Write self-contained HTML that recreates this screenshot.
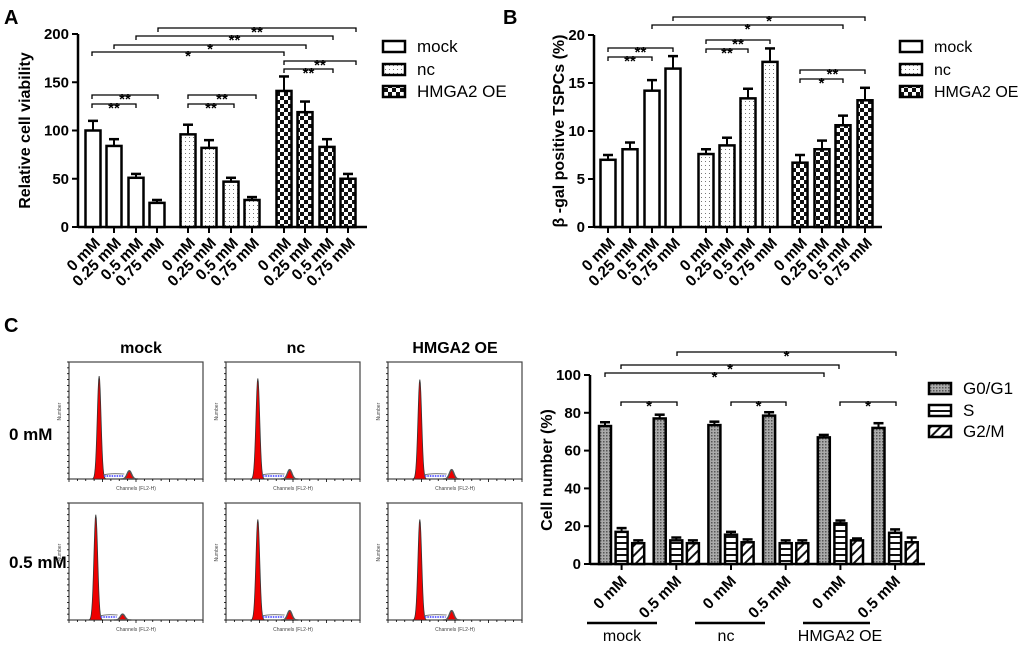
<!DOCTYPE html>
<html><head><meta charset="utf-8">
<style>
body{margin:0;background:#fff;}
svg{display:block;font-family:"Liberation Sans",Arial,sans-serif;}
</style></head>
<body>
<svg id="fig" width="1020" height="649" viewBox="0 0 1020 649" xmlns="http://www.w3.org/2000/svg">
<defs>
<pattern id="pDot" width="4" height="4" patternUnits="userSpaceOnUse"><rect width="4" height="4" fill="#fff"/><rect x="1" y="1" width="1" height="1" fill="#777"/></pattern>
<pattern id="pCheck" width="8" height="8" patternUnits="userSpaceOnUse"><rect width="8" height="8" fill="#fff"/><rect width="4" height="4" fill="#111"/><rect x="4" y="4" width="4" height="4" fill="#111"/></pattern>
<pattern id="pGray" width="3" height="3" patternUnits="userSpaceOnUse"><rect width="3" height="3" fill="#aaa"/><rect width="1.5" height="1.5" fill="#555"/></pattern>
<pattern id="pHoriz" width="6" height="6" patternUnits="userSpaceOnUse"><rect width="6" height="6" fill="#fff"/><rect y="2" width="6" height="2" fill="#111"/></pattern>
<pattern id="pDiag" width="7" height="7" patternUnits="userSpaceOnUse" patternTransform="rotate(45)"><rect width="7" height="7" fill="#fff"/><rect width="2" height="7" fill="#111"/></pattern>
</defs>
<g id="root"></g>
</svg>
<script>
// Panel A data
const aGroups = ['mock','nc','HMGA2 OE'];
const aDoses = ['0 mM','0.25 mM','0.5 mM','0.75 mM'];
const aMock = [100,84,51,25];
const aNc = [96,82,47,28];
const aOE = [141,119,83,50];
const aMockErr = [10,7,4,3];
const aNcErr = [10,8,4,3];
const aOEErr = [15,11,8,5];
const aTicks = [0,50,100,150,200];
// Panel B data
const bMock = [7.0,8.1,14.2,16.5];
const bNc = [7.6,8.5,13.4,17.2];
const bOE = [6.7,8.1,10.6,13.2];
const bMockErr = [0.5,0.7,1.1,1.3];
const bNcErr = [0.5,0.8,1.0,1.4];
const bOEErr = [0.8,0.9,1.0,1.3];
const bTicks = [0,5,10,15,20];
// Panel C data
const cPhases = ['G0/G1','S','G2/M'];
const cDoseLabels = ['0 mM','0.5 mM','0 mM','0.5 mM','0 mM','0.5 mM'];
const cG0G1 = [73,77,73.5,78.5,67,72];
const cS = [17,12.5,15.5,11,21.5,16.5];
const cG2M = [11,11,11.5,11,12.5,11.5];
const cG0G1Err = [2,2,1.8,1.8,1.3,2.5];
const cSErr = [2,1.5,1.5,1.5,1.5,1.8];
const cG2MErr = [1.5,1.5,1.5,1.5,1,2.5];
const cTicks = [0,20,40,60,80,100];
// Flow histogram params
const flowG1Pos = [18,19,19,16,19,19];
const flowG1H = [0.88,0.86,0.85,0.9,0.86,0.86];
const flowG2H = [0.07,0.08,0.08,0.05,0.08,0.08];

const NS='http://www.w3.org/2000/svg';
const root=document.getElementById('root');
function el(tag,attrs,parent,text){const e=document.createElementNS(NS,tag);for(const k in attrs)e.setAttribute(k,attrs[k]);if(text!==undefined)e.textContent=text;(parent||root).appendChild(e);return e;}
function line(x1,y1,x2,y2,w,p){return el('line',{x1,y1,x2,y2,stroke:'#000','stroke-width':w||2},p);}

function axisY(g,x,y0,y1,vmax,ticks,fs){
  const sc=v=>y0-(y0-y1)*v/vmax;
  line(x,y0+1,x,y1,2.5,g);
  ticks.forEach(t=>{line(x-6,sc(t),x,sc(t),2,g);
    const tx=el('text',{x:x-9,y:sc(t)+5,'text-anchor':'end','font-size':fs,'font-weight':'bold'},g,String(t));
    
    });
  return sc;
}
function bracket(g,x1,x2,y,label){
  const b=el('g',{},g);
  
  
  el('path',{d:`M${x1},${y+4}V${y}H${x2}V${y+4}`,fill:'none',stroke:'#000','stroke-width':1.3},b);
  el('text',{x:(x1+x2)/2,y:y+9,'text-anchor':'middle','font-size':15,'font-weight':'bold'},b,label);
}
function bar(g,cx,w,y0,yv,ye,fill,name){
  const b=el('g',{},g);
  
  
  line(cx,yv,cx,ye,2,b);line(cx-5,ye,cx+5,ye,2.5,b);
  el('rect',{x:cx-w/2,y:yv,width:w,height:y0-yv,fill:fill,stroke:'#000','stroke-width':2.5},b);
}
function legend(g,x,ys,fills,labels,fs){
  ys.forEach((y,i)=>{const l=el('g',{},g);
    
    
    el('rect',{x:x,y:y-5,width:22,height:11,fill:fills[i],stroke:'#000','stroke-width':2.5},l);
    el('text',{x:x+34,y:y+6,'font-size':fs},l,labels[i]);});
}
function rotLabel(g,x,y,t,fs){
  const tx=el('text',{x:x,y:y,'text-anchor':'end','font-size':fs,'font-weight':'bold',transform:`rotate(-45 ${x} ${y})`},g,t);
  
  
}
function panelLetter(x,y,t){const e=el('text',{x,y,'font-size':20,'font-weight':'bold'},root,t);
  
  }

function doseChart(name,ax,y0,y1,x1,vmax,ticks,series,errs,centers,ylab,ylx,legX,brks,lfs){
  const g=el('g',{});
  
  
  const sc=axisY(g,ax,y0,y1,vmax,ticks,15);
  line(ax,y0,x1,y0,2.5,g);
  const fills=['#fff','url(#pDot)','url(#pCheck)'];
  series.forEach((s,gi)=>s.forEach((v,i)=>{
    const cx=centers[gi][i];
    line(cx,y0,cx,y0+6,2,g);
    bar(g,cx,15,y0,sc(v),sc(v+errs[gi][i]),fills[gi],'bar-'+aGroups[gi].replace(/ /g,'-').toLowerCase()+'-'+i);
    rotLabel(g,cx+8,y0+17,aDoses[i],15.5);
  }));
  const yl=el('text',{x:ylx,y:(y0+y1)/2,'text-anchor':'middle','font-size':16,'font-weight':'bold',transform:`rotate(-90 ${ylx} ${(y0+y1)/2})`},g,ylab);
  
  
  legend(g,legX,[46,69,91],fills,aGroups,lfs);
  brks.forEach(b=>bracket(g,b[0],b[1],b[2],b[3]));
}
const aCenters=[[93,114,136,157],[188,209,231,252],[284,305,327,348]];
doseChart('chart-a-cell-viability',78,227,34,367,200,aTicks,[aMock,aNc,aOE],[aMockErr,aNcErr,aOEErr],aCenters,
 'Relative cell viability',30,383,
 [[158,356,28,'**'],[136,333,36,'**'],[114,306,45,'*'],[92,284,52,'*'],[284,356,61,'**'],[284,333,69,'**'],[92,158,95,'**'],[92,136,104,'**'],[188,256,95,'**'],[188,234,104,'**']],17);
const bCenters=[[608,630,652,673],[706,727,748,770],[800,822,843,865]];
doseChart('chart-b-beta-gal',594,227,35,882,20,bTicks,[bMock,bNc,bOE],[bMockErr,bNcErr,bOEErr],bCenters,
 'β -gal positive TSPCs (%)',564,900,
 [[673,865,17,'*'],[652,843,25,'*'],[608,673,48,'**'],[608,652,57,'**'],[706,770,40,'**'],[706,748,49,'**'],[800,865,70,'**'],[800,843,79,'*']],16);
panelLetter(4,24,'A');panelLetter(503,24,'B');panelLetter(4,332,'C');

(function(){
  const g=el('g',{});
  
  
  const ax=590,y0=564,y1=375;
  const sc=axisY(g,ax,y0,y1,100,cTicks,15);
  line(ax,y0,925,y0,2.5,g);
  const fills=['url(#pGray)','url(#pHoriz)','url(#pDiag)'];
  const vals=[cG0G1,cS,cG2M],errs=[cG0G1Err,cSErr,cG2MErr];
  cDoseLabels.forEach((d,i)=>{
    const base=605+i*54.7;
    vals.forEach((s,p)=>{const cx=base+p*16.6;
      bar(g,cx,12,y0,sc(s[i]),sc(s[i]+errs[p][i]),fills[p],'bar-'+cPhases[p].replace('/','-').toLowerCase()+'-'+i);});
    const tc=base+16.6;
    line(tc,y0,tc,y0+6,2,g);
    rotLabel(g,tc+6,y0+18,d,15.5);
  });
  const yl=el('text',{x:552,y:470,'text-anchor':'middle','font-size':16,'font-weight':'bold',transform:'rotate(-90 552 470)'},g,'Cell number (%)');
  
  
  legend(g,929,[388,410,431],fills,cPhases,17);
  const grp=[[587,657,'mock',622],[695,765,'nc',726],[803,870,'HMGA2 OE',840]];
  grp.forEach(q=>{const gg=el('g',{},g);
    
    
    line(q[0],623,q[1],623,2.5,gg);
    el('text',{x:q[3],y:641,'text-anchor':'middle','font-size':16},gg,q[2]);});
  [[677,896,352],[621,839,365],[605,824,373],[621,677,402],[731,786,402],[840,896,402]].forEach(b=>bracket(g,b[0],b[1],b[2],'*'));
})();

(function(){
  const g=el('g',{});
  
  
  const xs=[69,226,388],ys=[362,503],w=134,h=117;
  [['mock',141],['nc',296],['HMGA2 OE',455]].forEach(t=>{const e=el('text',{x:t[1],y:353,'text-anchor':'middle','font-size':16,'font-weight':'bold'},g,t[0]);
    
    });
  [['0 mM',440],['0.5 mM',568]].forEach(t=>{const e=el('text',{x:9,y:t[1],'font-size':17,'font-weight':'bold'},g,t[0]);
    
    });
  let k=0;
  ys.forEach(y=>xs.forEach(x=>{
    const p=el('g',{},g);
    
    
    el('rect',{x,y,width:w,height:h,fill:'#fff',stroke:'#444','stroke-width':1.2},p);
    const bx=x,by=y+h,sx=w/80;
    const c1=bx+flowG1Pos[k]*sx,c2=bx+flowG1Pos[k]*2*sx;
    const H1=h*flowG1H[k],H2=h*flowG2H[k];
    let d=`M${c1-7},${by}`;
    for(let t=-7;t<=7;t+=0.5)d+=`L${c1+t},${by-H1*Math.exp(-t*t/7)}`;
    d+=`L${c1+7},${by}Z`;
    el('path',{d,fill:'#e00',stroke:'#333','stroke-width':0.8},p);
    let d2=`M${c2-8},${by}`;
    for(let t=-8;t<=8;t+=0.5)d2+=`L${c2+t},${by-H2*Math.exp(-t*t/10)}`;
    d2+=`L${c2+8},${by}Z`;
    el('path',{d:d2,fill:'#e00',stroke:'#555','stroke-width':1.5},p);
    el('path',{d:`M${c1+5},${by-3}H${c2-6}`,stroke:'#66f','stroke-width':2,'stroke-dasharray':'1.5 1'},p);
    el('path',{d:`M${c1+4},${by-4}Q${c1+10},${by-6} ${c2-5},${by-5}`,stroke:'#666','stroke-width':0.8,fill:'none'},p);
    for(let i=0;i<=16;i++)line(bx+i*w/16,by,bx+i*w/16,by+(i%4?2:3),0.8,p);
    for(let i=0;i<=20;i++)line(bx,y+i*h/20,bx-2,y+i*h/20,0.8,p);
    el('text',{x:x+w/2,y:by+11,'text-anchor':'middle','font-size':5,fill:'#444'},p,'Channels (FL2-H)');
    el('text',{x:x-8,y:y+h/2,'font-size':5,fill:'#444',transform:`rotate(-90 ${x-8} ${y+h/2})`},p,'Number');
    k++;
  }));
})();
</script>
</body></html>
